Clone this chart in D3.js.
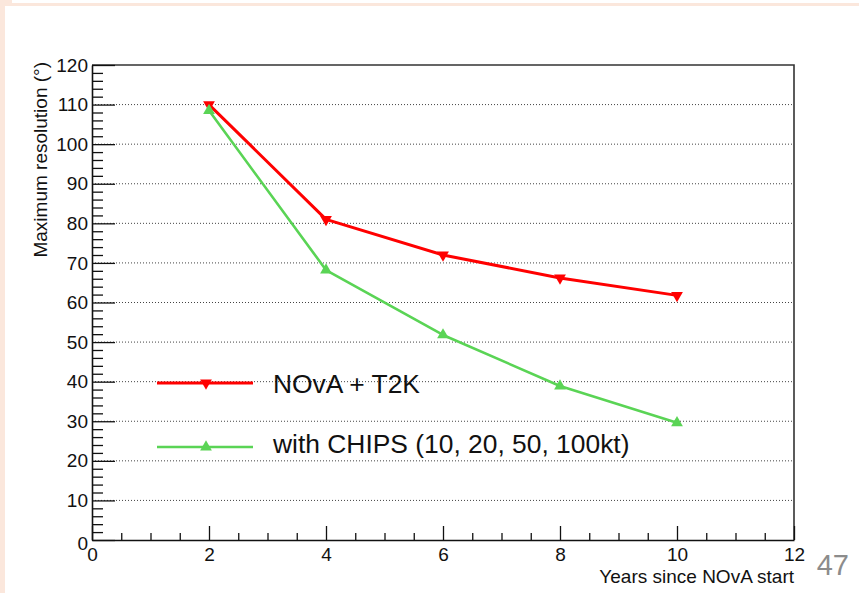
<!DOCTYPE html>
<html>
<head>
<meta charset="utf-8">
<script src="https://cdn.jsdelivr.net/npm/d3@7"></script>
<style>
  html, body { margin: 0; padding: 0; background: #fff; }
  svg { display: block; }
  text { font-family: "Liberation Sans", Arial, sans-serif; }
</style>
</head>
<body>
<svg id="chart" width="859" height="593"></svg>
<script>
// Sensitivity study: maximum resolution vs. years of running
const years = [2, 4, 6, 8, 10];
const novaT2K = [110.0, 81.0, 72.0, 66.2, 61.8];
const withCHIPS = [108.5, 68.2, 51.8, 38.9, 29.6];

const seriesNames = ["NOvA + T2K", "with CHIPS (10, 20, 50, 100kt)"];
const seriesColors = ["#ff0000", "#5ad455"];

const xTicks = [0, 2, 4, 6, 8, 10, 12];
const yTicks = [0, 10, 20, 30, 40, 50, 60, 70, 80, 90, 100, 110, 120];
const xTitle = "Years since NOvA start";
const yTitle = "Maximum resolution (°)";
const pageNumber = "47";

const svg = d3.select("#chart");

// slide border strips
svg.append("rect").attr("x", 0).attr("y", 3).attr("width", 859).attr("height", 3).attr("fill", "#fbe7dc");
svg.append("rect").attr("x", 0).attr("y", 0).attr("width", 5).attr("height", 593).attr("fill", "#fbe7dc");
svg.append("rect").attr("x", 0).attr("y", 0).attr("width", 12).attr("height", 6).attr("fill", "#fbe7dc");

const L = 92, T = 65, R = 794, B = 540;
const x = d3.scaleLinear().domain([0, 12]).range([L, R]);
const y = d3.scaleLinear().domain([0, 120]).range([B, T]);

// horizontal dotted grid
svg.append("g")
  .selectAll("line")
  .data(yTicks.filter(v => v > 0 && v < 120))
  .join("line")
  .attr("x1", L).attr("x2", R)
  .attr("y1", d => y(d)).attr("y2", d => y(d))
  .attr("stroke", "#444").attr("stroke-width", 1)
  .attr("stroke-dasharray", "1,2");

// frame (top and right)
svg.append("path")
  .attr("d", `M${L},${T}H${R}V${B}`)
  .attr("fill", "none").attr("stroke", "#333").attr("stroke-width", 1.6);

// x axis: ticks point into the plot
const xMinor = d3.range(0, 12.01, 0.5).filter(v => Math.abs(v / 2 - Math.round(v / 2)) > 1e-6);
svg.append("g")
  .attr("transform", `translate(0,${B})`)
  .call(d3.axisBottom(x).tickValues(xMinor).tickSize(-7).tickFormat(""))
  .call(g => g.select(".domain").remove())
  .selectAll("line").attr("stroke", "#111").attr("stroke-width", 1.3);

const gx = svg.append("g")
  .attr("transform", `translate(0,${B})`)
  .call(d3.axisBottom(x).tickValues(xTicks).tickSize(-14).tickSizeOuter(0).tickPadding(8).tickFormat(d3.format("d")));
gx.select(".domain").attr("stroke", "#111").attr("stroke-width", 1.6);
gx.selectAll(".tick line").attr("stroke", "#111").attr("stroke-width", 1.3);
gx.selectAll(".tick text")
  .attr("font-size", 19).attr("fill", "#111")
  .attr("dy", null).attr("y", 21);

// y axis: ticks point into the plot
const yMinor = d3.range(0, 120.01, 2).filter(v => v % 10 !== 0);
svg.append("g")
  .attr("transform", `translate(${L},0)`)
  .call(d3.axisLeft(y).tickValues(yMinor).tickSize(-11).tickFormat(""))
  .call(g => g.select(".domain").remove())
  .selectAll("line").attr("stroke", "#111").attr("stroke-width", 1.3);

const gy = svg.append("g")
  .attr("transform", `translate(${L},0)`)
  .call(d3.axisLeft(y).tickValues(yTicks).tickSize(-23).tickSizeOuter(0).tickPadding(4).tickFormat(d3.format("d")));
gy.select(".domain").attr("stroke", "#111").attr("stroke-width", 1.6);
gy.selectAll(".tick line").attr("stroke", "#111").attr("stroke-width", 1.3);
gy.selectAll(".tick text").attr("font-size", 19).attr("fill", "#111");
// the zero labels sit slightly apart at the corner
gy.selectAll(".tick").filter(d => d === 0).select("text").attr("dy", "0.5em");

// axis titles
svg.append("text")
  .attr("x", R).attr("y", 583)
  .attr("text-anchor", "end").attr("font-size", 19).attr("fill", "#111")
  .text(xTitle);
svg.append("text")
  .attr("transform", `translate(47,62) rotate(-90)`)
  .attr("text-anchor", "end").attr("font-size", 19).attr("fill", "#111")
  .text(yTitle);

// series
const series = [
  { name: seriesNames[0], values: novaT2K, color: seriesColors[0], marker: "down", width: 3 },
  { name: seriesNames[1], values: withCHIPS, color: seriesColors[1], marker: "up", width: 2.6 }
];

const line = d3.line()
  .x(d => x(d[0])).y(d => y(d[1]));

const tri = d3.symbol().type(d3.symbolTriangle).size(60);

function markerTransform(px, py, dir) {
  return dir === "down"
    ? `translate(${px},${py}) rotate(180)`
    : `translate(${px},${py})`;
}

series.forEach(s => {
  const pts = years.map((yr, i) => [yr, s.values[i]]);
  svg.append("path")
    .datum(pts)
    .attr("d", line)
    .attr("fill", "none")
    .attr("stroke", s.color)
    .attr("stroke-width", s.width)
    .attr("stroke-linejoin", "round");
  svg.append("g")
    .selectAll("path")
    .data(pts)
    .join("path")
    .attr("d", tri)
    .attr("transform", d => markerTransform(x(d[0]), y(d[1]), s.marker))
    .attr("fill", s.color);
});

// legend
const legend = svg.append("g");
const legendRows = [383, 447];
series.forEach((s, i) => {
  const ly = legendRows[i];
  legend.append("line")
    .attr("x1", 157).attr("x2", 253).attr("y1", ly).attr("y2", ly)
    .attr("stroke", s.color).attr("stroke-width", s.width);
  legend.append("path")
    .attr("d", tri)
    .attr("transform", markerTransform(206, ly, s.marker))
    .attr("fill", s.color);
  legend.append("text")
    .attr("x", 273).attr("y", i === 0 ? 393 : 453)
    .attr("font-size", 26.4).attr("fill", "#111")
    .text(s.name);
});

// slide page number
svg.append("text")
  .attr("x", 849).attr("y", 575)
  .attr("text-anchor", "end")
  .attr("font-size", 29).attr("fill", "#8c8c8c")
  .text(pageNumber);
</script>
</body>
</html>
